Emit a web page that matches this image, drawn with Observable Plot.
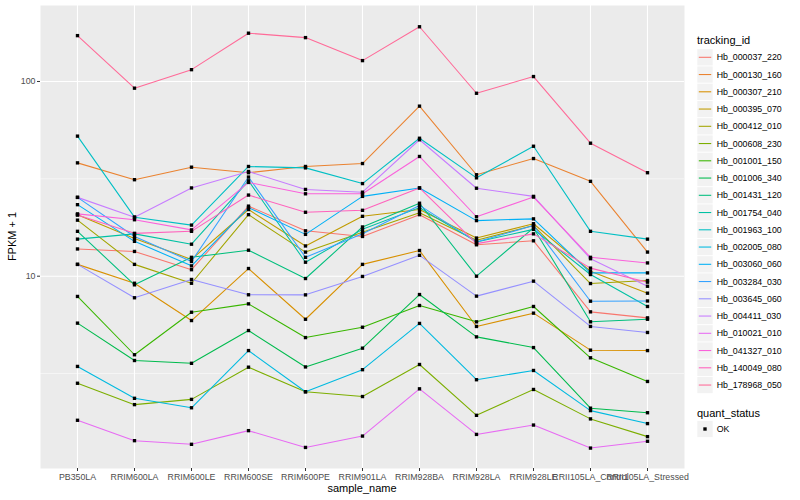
<!DOCTYPE html>
<html><head><meta charset="utf-8">
<script src="https://cdn.jsdelivr.net/npm/d3@7"></script>
<script src="https://cdn.jsdelivr.net/npm/@observablehq/plot@0.6"></script>
<style>body{margin:0;background:#fff} #chart{width:800px;height:500px}</style>
</head><body><div id="chart"></div>
<script>
const samples = ["PB350LA","RRIM600LA","RRIM600LE","RRIM600SE","RRIM600PE","RRIM901LA","RRIM928BA","RRIM928LA","RRIM928LE","RRII105LA_Control","RRII105LA_Stressed"];
const trackingIds = ["Hb_000037_220","Hb_000130_160","Hb_000307_210","Hb_000395_070","Hb_000412_010","Hb_000608_230","Hb_001001_150","Hb_001006_340","Hb_001431_120","Hb_001754_040","Hb_001963_100","Hb_002005_080","Hb_003060_060","Hb_003284_030","Hb_003645_060","Hb_004411_030","Hb_010021_010","Hb_041327_010","Hb_140049_080","Hb_178968_050"];
const palette = ["#F8766D","#EA8331","#D89000","#C09B00","#A3A500","#7CAE00","#39B600","#00BB4E","#00BF7D","#00C1A3","#00BFC4","#00BAE0","#00B0F6","#35A2FF","#9590FF","#C77CFF","#E76BF3","#FA62DB","#FF62BC","#FF6A98"];

// FPKM + 1 per tracking id, in sample order
const hb_000037_220 = [13.8, 13.4, 10.8, 22.9, 17.1, 16.0, 20.7, 14.5, 15.2, 6.56, 6.11];
const hb_000130_160 = [38.2, 31.3, 36.3, 34.0, 36.6, 37.9, 74.7, 33.2, 40.2, 30.7, 13.3];
const hb_000307_210 = [11.5, 9.2, 5.92, 10.95, 6.01, 11.5, 13.55, 5.52, 6.46, 4.17, 4.15];
const hb_000395_070 = [20.7, 15.6, 12.2, 22.0, 14.3, 20.3, 22.0, 15.7, 18.6, 10.6, 8.18];
const hb_000412_010 = [19.4, 11.5, 9.2, 20.7, 13.3, 16.8, 21.2, 15.3, 18.2, 9.17, 9.5];
const hb_000608_230 = [2.82, 2.19, 2.33, 3.41, 2.55, 2.41, 3.52, 1.93, 2.62, 1.85, 1.50];
const hb_001001_150 = [7.87, 3.95, 6.53, 7.21, 4.84, 5.47, 7.07, 5.83, 6.99, 3.81, 2.88];
const hb_001006_340 = [5.74, 3.69, 3.57, 5.26, 3.42, 4.27, 8.05, 4.88, 4.30, 2.10, 1.99];
const hb_001431_120 = [17.0, 9.03, 12.5, 13.6, 9.73, 17.9, 23.7, 10.0, 17.7, 5.83, 6.01];
const hb_001754_040 = [15.5, 16.5, 14.6, 30.9, 11.8, 17.4, 22.5, 15.0, 17.4, 10.2, 6.99];
const hb_001963_100 = [52.4, 20.1, 18.3, 36.6, 36.0, 29.9, 51.1, 32.0, 46.5, 17.0, 15.5];
const hb_002005_080 = [3.44, 2.36, 2.11, 4.15, 2.55, 3.31, 5.72, 2.94, 3.28, 2.04, 1.75];
const hb_003060_060 = [23.3, 15.1, 11.3, 22.5, 16.4, 25.7, 28.4, 19.3, 19.7, 10.4, 10.4];
const hb_003284_030 = [25.4, 16.0, 11.9, 32.3, 12.5, 16.5, 23.1, 15.0, 18.2, 7.44, 7.46];
const hb_003645_060 = [11.5, 7.75, 9.62, 8.03, 8.02, 9.97, 12.8, 7.90, 9.43, 5.52, 5.14];
const hb_004411_030 = [25.4, 20.1, 28.4, 34.5, 27.9, 27.0, 50.2, 28.3, 25.7, 12.3, 8.88];
const hb_010021_010 = [1.82, 1.43, 1.37, 1.61, 1.32, 1.51, 2.64, 1.54, 1.72, 1.31, 1.42];
const hb_041327_010 = [20.9, 19.5, 17.3, 30.3, 26.5, 26.5, 41.2, 20.2, 25.5, 12.5, 11.7];
const hb_140049_080 = [20.6, 16.6, 17.0, 26.1, 21.3, 21.8, 28.4, 14.7, 16.5, 11.0, 9.32];
const hb_178968_050 = [172, 92.4, 115, 177, 168, 128, 191, 87, 106, 48.2, 34.0];

const yTicks = [10, 100];
const yMinor = [3.162, 31.62];
const yDomain = [1.029, 245.6];
const statusLevels = ["OK"];

const seriesValues = [hb_000037_220, hb_000130_160, hb_000307_210, hb_000395_070, hb_000412_010, hb_000608_230, hb_001001_150, hb_001006_340, hb_001431_120, hb_001754_040, hb_001963_100, hb_002005_080, hb_003060_060, hb_003284_030, hb_003645_060, hb_004411_030, hb_010021_010, hb_041327_010, hb_140049_080, hb_178968_050];

const rows = [];
trackingIds.forEach((id, i) => seriesValues[i].forEach((v, j) => rows.push({id, sample: samples[j], value: v, status: statusLevels[0]})));

const chart = Plot.plot({
  width: 800, height: 500,
  marginLeft: 40, marginRight: 116, marginTop: 5, marginBottom: 32,
  style: {fontFamily: "'Liberation Sans', Arial, sans-serif", fontSize: "8.8px", background: "#fff", color: "#4D4D4D"},
  x: {type: "point", domain: samples, padding: 0.6},
  y: {type: "log", domain: yDomain},
  color: {domain: trackingIds, range: palette},
  marks: [
    Plot.frame({fill: "#EBEBEB", stroke: "none"}),
    Plot.ruleY(yMinor, {stroke: "#fff", strokeWidth: 0.55}),
    Plot.ruleY(yTicks, {stroke: "#fff", strokeWidth: 1.1}),
    Plot.ruleX(samples, {stroke: "#fff", strokeWidth: 1.1}),
    Plot.line(rows, {x: "sample", y: "value", z: "id", stroke: "id", strokeWidth: 1.07}),
    Plot.dot(rows, {x: "sample", y: "value", symbol: "square", r: 1.9, fill: "#000"}),
    Plot.axisX({tickSize: 3, tickPadding: 2, stroke: "#333", fill: "#4D4D4D", label: null}),
    Plot.axisY({ticks: yTicks, tickFormat: d => String(d), tickSize: 3, tickPadding: 2, stroke: "#333", fill: "#4D4D4D", label: null})
  ]
});
document.getElementById("chart").appendChild(chart);

const svg = d3.select(chart);
const ff = "'Liberation Sans', Arial, sans-serif";
svg.append("text").attr("x", 362).attr("y", 488).attr("dy", "0.35em").attr("text-anchor", "middle")
  .attr("font-size", 11).attr("font-family", ff).attr("fill", "#000").text("sample_name");
svg.append("text").attr("transform", "translate(12,236.5) rotate(-90)").attr("dy", "0.35em").attr("text-anchor", "middle")
  .attr("font-size", 11).attr("font-family", ff).attr("fill", "#000").text("FPKM + 1");

// legend: tracking_id
const lg = svg.append("g").attr("font-family", ff).attr("text-anchor", "start");
lg.append("text").attr("x", 697).attr("y", 40).attr("dy", "0.35em").attr("font-size", 11).attr("fill", "#000").text("tracking_id");
const step = 17.25, y0 = 57.3;
trackingIds.forEach((id, i) => {
  const cy = y0 + i * step;
  lg.append("rect").attr("x", 697.3).attr("y", cy - step / 2 + 0.5).attr("width", 15.4).attr("height", step - 1).attr("fill", "#F2F2F2");
  lg.append("line").attr("x1", 698.8).attr("x2", 711.2).attr("y1", cy).attr("y2", cy).attr("stroke", palette[i]).attr("stroke-width", 1.07);
  lg.append("text").attr("x", 716.7).attr("y", cy).attr("dy", "0.35em").attr("font-size", 8.8).attr("fill", "#000").text(id);
});
// legend: quant_status
lg.append("text").attr("x", 697).attr("y", 412.7).attr("dy", "0.35em").attr("font-size", 11).attr("fill", "#000").text("quant_status");
statusLevels.forEach((s, i) => {
  const cy = 429 + i * step;
  lg.append("rect").attr("x", 697.3).attr("y", cy - step / 2 + 0.5).attr("width", 15.4).attr("height", step - 1).attr("fill", "#F2F2F2");
  lg.append("path").attr("transform", `translate(705,${cy})`).attr("d", d3.symbol(d3.symbolSquare, 1.9 * 1.9 * Math.PI)()).attr("fill", "#000");
  lg.append("text").attr("x", 716.7).attr("y", cy).attr("dy", "0.35em").attr("font-size", 8.8).attr("fill", "#000").text(s);
});
</script>
</body></html>
